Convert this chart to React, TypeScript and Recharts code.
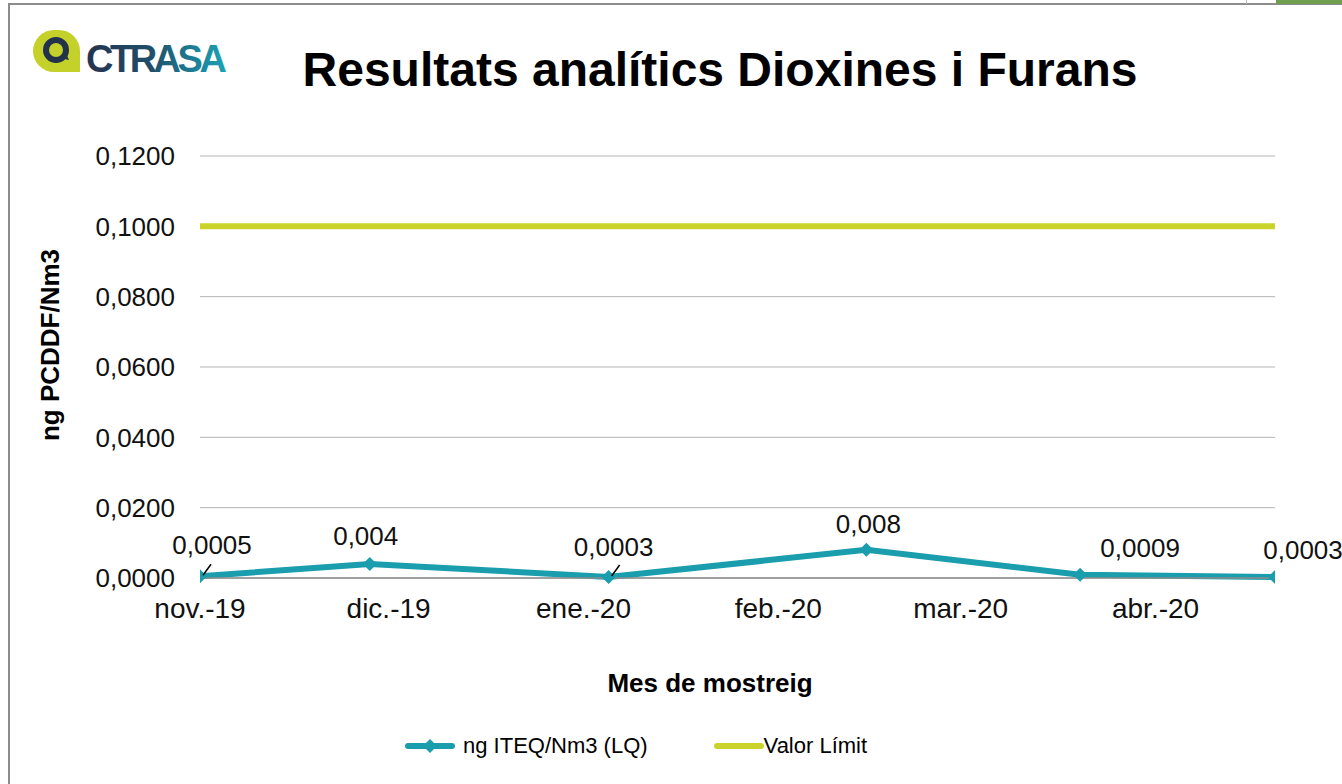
import React from "react";
import { LineChart, Line, XAxis, YAxis, CartesianGrid } from "recharts";

/* ─── Data ───────────────────────────────────────────────────────────────── */
// x positions are days counted from 1 Nov 2019 (date axis)
const sampleDays = [0, 27, 65, 106, 140, 171];
const iteqValues = [0.0005, 0.004, 0.0003, 0.008, 0.0009, 0.0003];
const limitValue = 0.1;

const monthLabels = ["nov.-19", "dic.-19", "ene.-20", "feb.-20", "mar.-20", "abr.-20"];
const monthStartDays = [0, 30, 61, 92, 121, 152];
const yTicks = [0, 0.02, 0.04, 0.06, 0.08, 0.1, 0.12];

const data = sampleDays.map((d, i) => ({ day: d, value: iteqValues[i], limit: limitValue }));

/* ─── Style ──────────────────────────────────────────────────────────────── */
const TEAL = "#1a9dad";
const LIME = "#c9d32a";
const FONT = "'Liberation Sans', Arial, sans-serif";

// label offsets (dx, dy) from each point, and which ones get a leader line
const labelOffsets: Array<[number, number, boolean]> = [
  [12, -31, true],
  [-4, -28, false],
  [5, -30, true],
  [2, -26, false],
  [60, -27, false],
  [28, -27, false],
];

const fmtComma = (v: number) => String(v).replace(".", ",");

function Diamond(props: any) {
  const { cx, cy } = props;
  if (cx == null || cy == null) return null;
  const r = 7;
  return (
    <polygon
      points={`${cx},${cy - r} ${cx + r},${cy} ${cx},${cy + r} ${cx - r},${cy}`}
      fill={TEAL}
    />
  );
}

function PointLabel(props: any) {
  const { x, y, value, index } = props;
  const [dx, dy, leader] = labelOffsets[index] ?? [0, -26, false];
  return (
    <g>
      {leader && (
        <line x1={x + 3} y1={y - 1} x2={x + 11} y2={y - 12} stroke="#000" strokeWidth={1.5} />
      )}
      <text
        x={x + dx}
        y={y + dy}
        textAnchor="middle"
        dominantBaseline="central"
        fontFamily={FONT}
        fontSize={26}
        fill="#111"
      >
        {fmtComma(value)}
      </text>
    </g>
  );
}

function Logo() {
  return (
    <svg width={260} height={90} style={{ position: "absolute", left: 0, top: 0 }}>
      <defs>
        <linearGradient id="logoText" x1="0" y1="0" x2="1" y2="0">
          <stop offset="0%" stopColor="#243450" />
          <stop offset="45%" stopColor="#1f4d68" />
          <stop offset="100%" stopColor="#1ba3b6" />
        </linearGradient>
      </defs>
      <path d="M33 51 a21 21 0 0 1 21 -21 h5 a21 21 0 0 1 21 21 v21 h-26 a21 21 0 0 1 -21 -21 z" fill="#c5d12b" />
      <circle cx={56} cy={50} r={10} fill="none" stroke="#22324b" strokeWidth={6} />
      <path d="M60 58 l9 2 l-4 -9 z" fill="#22324b" />
      <text
        x={86}
        y={72}
        fontFamily={FONT}
        fontWeight={700}
        fontSize={38}
        letterSpacing={-3.5}
        fill="url(#logoText)"
      >
        CTRASA
      </text>
    </svg>
  );
}

export default function App() {
  return (
    <div style={{ position: "absolute", left: 0, top: 0, width: 1342, height: 784, background: "#fff", overflow: "hidden", fontFamily: FONT }}>
      {/* frame */}
      <div style={{ position: "absolute", left: 8, top: 3, width: 1334, height: 2, background: "#8c8c8c" }} />
      <div style={{ position: "absolute", left: 8, top: 3, width: 2, height: 781, background: "#8c8c8c" }} />
      <div style={{ position: "absolute", left: 1276, top: 0, width: 66, height: 4, background: "#6f9e4e" }} />
      <div style={{ position: "absolute", left: 1246, top: 0, width: 1, height: 4, background: "#bbb" }} />

      <Logo />

      <div style={{ position: "absolute", left: 0, width: 1440, top: 44, textAlign: "center", fontSize: 48, fontWeight: 700, color: "#000", lineHeight: "52px" }}>
        Resultats analítics Dioxines i Furans
      </div>

      <div style={{ position: "absolute", left: 50, top: 345, transform: "translate(-50%, -50%) rotate(-90deg)", whiteSpace: "nowrap", fontSize: 26, fontWeight: 700, color: "#000" }}>
        ng PCDDF/Nm3
      </div>

      <div style={{ position: "absolute", left: 710, top: 683, transform: "translate(-50%, -50%)", whiteSpace: "nowrap", fontSize: 26, fontWeight: 700, color: "#000" }}>
        Mes de mostreig
      </div>

      {/* legend */}
      <div style={{ position: "absolute", left: 405, top: 746, transform: "translateY(-50%)", display: "flex", alignItems: "center", fontSize: 22, color: "#000", whiteSpace: "nowrap" }}>
        <svg width={50} height={16} style={{ marginRight: 8 }}>
          <line x1={3} y1={8} x2={47} y2={8} stroke={TEAL} strokeWidth={6} strokeLinecap="round" />
          <polygon points="25,1 32,8 25,15 18,8" fill={TEAL} />
        </svg>
        <span>ng ITEQ/Nm3 (LQ)</span>
        <svg width={50} height={16} style={{ marginLeft: 66 }}>
          <line x1={3} y1={8} x2={47} y2={8} stroke={LIME} strokeWidth={6} strokeLinecap="round" />
        </svg>
        <span>Valor Límit</span>
      </div>

      <div style={{ position: "absolute", left: 0, top: 0 }}>
        <LineChart width={1342} height={784} data={data} margin={{ top: 156, right: 67, bottom: 176, left: 0 }}>
          <CartesianGrid vertical={false} stroke="#b5b5b5" strokeWidth={1} />
          <XAxis
            type="number"
            dataKey="day"
            domain={[0, 171]}
            ticks={monthStartDays}
            tickFormatter={(d: number) => monthLabels[monthStartDays.indexOf(d)] ?? ""}
            axisLine={{ stroke: "#8c8c8c", strokeWidth: 1.5 }}
            tickLine={false}
            tickMargin={14}
            tick={{ fontFamily: FONT, fontSize: 28, fill: "#111" }}
            interval={0}
            height={30}
            allowDataOverflow
          />
          <YAxis
            width={200}
            domain={[0, 0.12]}
            ticks={yTicks}
            tickFormatter={(v: number) => v.toFixed(4).replace(".", ",")}
            axisLine={false}
            tickLine={false}
            tickMargin={19}
            tick={{ fontFamily: FONT, fontSize: 26, fill: "#111" }}
            interval={0}
          />
          <Line
            dataKey="limit"
            stroke={LIME}
            strokeWidth={6}
            dot={false}
            activeDot={false}
            isAnimationActive={false}
          />
          <Line
            dataKey="value"
            stroke={TEAL}
            strokeWidth={6}
            dot={<Diamond />}
            activeDot={false}
            label={<PointLabel />}
            isAnimationActive={false}
          />
        </LineChart>
      </div>
    </div>
  );
}
